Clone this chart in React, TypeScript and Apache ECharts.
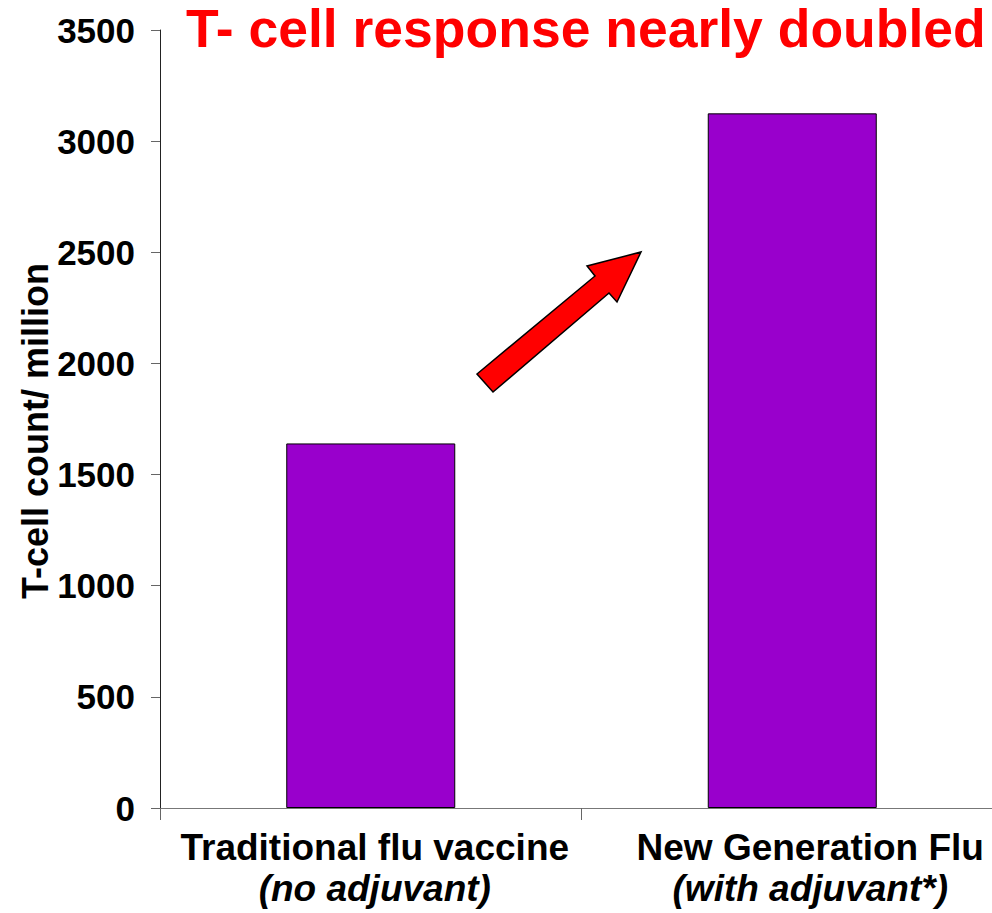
import React, { useEffect, useRef } from "react";
import * as echarts from "echarts";

const categories = ["Traditional flu vaccine", "New Generation Flu"];
const subLabels = ["(no adjuvant)", "(with adjuvant*)"];
const tCellCounts = [1640, 3125];
const yTicks = { min: 0, max: 3500, interval: 500 };
const titleText = "T- cell response nearly doubled";
const yAxisName = "T-cell count/ million";

const FONT = "'Liberation Sans', Arial, Helvetica, sans-serif";
// horizontal nudge (left padding) per category label, to mirror the original's label placement
const labelNudge = [8, 36];

export default function App() {
  const ref = useRef<HTMLDivElement>(null);
  useEffect(() => {
    if (!ref.current) return;
    const chart = echarts.init(ref.current, null, { renderer: "svg" });
    const rich: Record<string, any> = {};
    labelNudge.forEach((p, i) => {
      rich["a" + i] = {
        fontSize: 37, fontWeight: "bold", fontFamily: FONT, color: "#000", lineHeight: 41,
        padding: [0, 0, 0, p],
      };
      rich["b" + i] = {
        fontSize: 37, fontWeight: "bold", fontStyle: "italic", fontFamily: FONT, color: "#000", lineHeight: 41,
        padding: [0, 0, 0, p],
      };
    });
    chart.setOption({
      animation: false,
      backgroundColor: "#ffffff",
      title: {
        text: titleText,
        left: 186,
        top: 1,
        padding: 0,
        textStyle: { color: "#FF0000", fontSize: 53.5, fontWeight: "bold", fontFamily: FONT, lineHeight: 54 },
      },
      grid: { left: 160, top: 30, width: 843, height: 778, containLabel: false, outerBoundsMode: "none" },
      xAxis: {
        type: "category",
        data: categories,
        axisLine: { lineStyle: { color: "#777777", width: 1 } },
        axisTick: { show: true, length: 12, lineStyle: { color: "#666666" } },
        axisLabel: {
          margin: 19,
          interval: 0,
          formatter: (v: string, idx: number) => {
            return "{a" + idx + "|" + v + "}\n{b" + idx + "|" + subLabels[idx] + "}";
          },
          rich,
        },
      },
      yAxis: {
        type: "value",
        min: yTicks.min,
        max: yTicks.max,
        interval: yTicks.interval,
        axisLine: { show: true, lineStyle: { color: "#222222", width: 1 } },
        axisTick: { show: true, length: 9, lineStyle: { color: "#666666" } },
        splitLine: { show: false },
        axisLabel: {
          margin: 25,
          fontSize: 35,
          fontWeight: "bold",
          fontFamily: FONT,
          color: "#000",
          formatter: (v: number) => String(v),
        },
      },
      series: [
        {
          type: "bar",
          data: tCellCounts,
          barWidth: 169,
          itemStyle: { color: "#9900CC", borderColor: "#000000", borderWidth: 1 },
        },
      ],
      graphic: [
        {
          type: "text",
          x: 35,
          y: 431,
          rotation: Math.PI / 2,
          style: {
            text: yAxisName,
            fill: "#000",
            fontSize: 36,
            fontWeight: "bold",
            fontFamily: FONT,
            align: "center",
            verticalAlign: "middle",
          },
        },
        {
          type: "polygon",
          shape: {
            points: [
              [477, 374],
              [595, 276],
              [587, 266],
              [641, 252],
              [617, 302],
              [609, 293],
              [493, 392],
            ],
          },
          style: { fill: "#FF0000", stroke: "#000000", lineWidth: 1.5 },
        },
      ],
    });
    return () => chart.dispose();
  }, []);
  return (
    <div
      ref={ref}
      style={{ position: "fixed", left: 0, top: 0, width: 992, height: 913, background: "#fff" }}
    />
  );
}
